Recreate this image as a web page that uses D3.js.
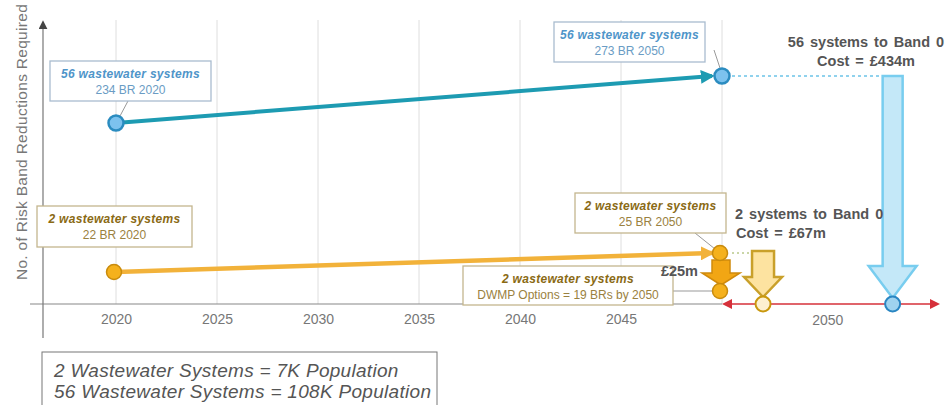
<!DOCTYPE html>
<html>
<head>
<meta charset="utf-8">
<script src="https://cdn.jsdelivr.net/npm/d3@7"></script>
<style>
  body { margin: 0; background: #fff; }
  text { font-family: "Liberation Sans", Arial, sans-serif; }
</style>
</head>
<body>
<div id="my_dataviz"></div>
<script>
// chart data
const gridYears = [2020, 2025, 2030, 2035, 2040, 2045, 2050];
const tickYears = [2020, 2025, 2030, 2035, 2040, 2045];
const bigYears = [2020, 2050];
const bigBR = [234, 273];
const smallYears = [2020, 2050];
const smallBR = [22, 25];
const dwmpBR = 19;
const band0 = 0;
// positions on the "2050" outcome segment (0..1)
const outcomeLabel = "2050";
const outcomeSmall = 0.19, outcomeBig = 0.79, outcomeLabelPos = 0.49;
const bigLabels = [["56 wastewater systems", "234 BR 2020"], ["56 wastewater systems", "273 BR 2050"]];
const smallLabels = [["2 wastewater systems", "22 BR 2020"], ["2 wastewater systems", "25 BR 2050"]];
const dwmpLabel = ["2 wastewater systems", "DWMP Options = 19 BRs by 2050"];
const bigCost = ["56 systems to Band 0", "Cost = £434m"];
const smallCost = ["2 systems to Band 0", "Cost = £67m"];
const dwmpCost = "£25m";
const legendLines = ["2 Wastewater Systems = 7K Population", "56 Wastewater Systems = 108K Population"];

const width = 948, height = 405;

const svg = d3.select("#my_dataviz")
  .append("svg")
    .attr("width", width)
    .attr("height", height);

// scales (schematic y axis, so piecewise)
const x = d3.scaleLinear().domain([2020, 2050]).range([116, 722]);
const xOut = d3.scaleLinear().domain([0, 1]).range([722, 938]);
const y = d3.scaleLinear().domain([0, 19, 25, 234, 273]).range([304, 291, 253, 123, 76]);

const blue = "#1d9bb2", blueFill = "#7cc2ee", blueStroke = "#2b8cc0";
const orange = "#f2b23a", orangeFill = "#f5b11c", orangeStroke = "#c98b0c";

const defs = svg.append("defs");
function marker(id, color, size) {
  defs.append("marker")
    .attr("id", id)
    .attr("viewBox", "0 0 10 10")
    .attr("refX", 8).attr("refY", 5)
    .attr("markerWidth", size).attr("markerHeight", size)
    .attr("markerUnits", "userSpaceOnUse")
    .attr("orient", "auto-start-reverse")
    .append("path")
      .attr("d", "M0,0 L10,5 L0,10 z")
      .attr("fill", color);
}
marker("arrBlue", blue, 14);
marker("arrOrange", orange, 14);
marker("arrRed", "#d6303a", 10);
marker("arrGray", "#444", 9);

// gridlines
svg.append("g")
  .selectAll("line")
  .data(gridYears)
  .join("line")
    .attr("x1", d => x(d)).attr("x2", d => x(d))
    .attr("y1", 20).attr("y2", y(0))
    .attr("stroke", "#dedede").attr("stroke-width", 1);

// x axis
const xAxis = svg.append("g")
  .attr("transform", `translate(0,${y(0)})`)
  .call(d3.axisBottom(x).tickValues(tickYears).tickFormat(d3.format("d")).tickSize(0).tickPadding(10));
xAxis.select(".domain").remove();
xAxis.selectAll("text").attr("font-size", 14).attr("fill", "#777");
svg.append("line")
  .attr("x1", 30).attr("x2", x(2050))
  .attr("y1", y(0)).attr("y2", y(0))
  .attr("stroke", "#888").attr("stroke-width", 1.2);

// y axis
svg.append("line")
  .attr("x1", 43).attr("x2", 43)
  .attr("y1", 338).attr("y2", 22)
  .attr("stroke", "#777").attr("stroke-width", 1.2)
  .attr("marker-end", "url(#arrGray)");
svg.append("text")
  .attr("transform", "translate(27,142) rotate(-90)")
  .attr("text-anchor", "middle")
  .attr("font-size", 15.5)
  .attr("letter-spacing", 0.3)
  .attr("fill", "#777")
  .text("No. of Risk Band Reductions Required");

// outcome segment (red double arrow)
svg.append("line")
  .attr("x1", xOut(0) + 2).attr("x2", xOut(1))
  .attr("y1", y(0)).attr("y2", y(0))
  .attr("stroke", "#d6303a").attr("stroke-width", 1.3)
  .attr("marker-start", "url(#arrRed)")
  .attr("marker-end", "url(#arrRed)");
svg.append("text")
  .attr("x", xOut(outcomeLabelPos)).attr("y", y(0) + 21)
  .attr("text-anchor", "middle")
  .attr("font-size", 14).attr("fill", "#777")
  .text(outcomeLabel);

// dotted connectors
svg.append("line")
  .attr("x1", x(2050) + 10).attr("x2", xOut(outcomeBig))
  .attr("y1", y(bigBR[1])).attr("y2", y(bigBR[1]))
  .attr("stroke", "#6cc3e8").attr("stroke-width", 1.3).attr("stroke-dasharray", "3,3");
svg.append("line")
  .attr("x1", x(2050) + 10).attr("x2", xOut(outcomeSmall) - 8)
  .attr("y1", y(smallBR[1])).attr("y2", y(smallBR[1]))
  .attr("stroke", "#b9c98a").attr("stroke-width", 1.3).attr("stroke-dasharray", "2,3");

// block arrows
function blockArrow(cx, y0, y1, shaftW, headW, headH) {
  const s = shaftW / 2, h = headW / 2;
  return `M${cx - s},${y0} L${cx + s},${y0} L${cx + s},${y1 - headH} L${cx + h},${y1 - headH} L${cx},${y1} L${cx - h},${y1 - headH} L${cx - s},${y1 - headH} Z`;
}
svg.append("path")
  .attr("d", blockArrow(xOut(outcomeBig), y(bigBR[1]), y(band0) - 6, 20, 48, 32))
  .attr("fill", "#c4e8f8").attr("stroke", "#78cdef").attr("stroke-width", 2.5);
svg.append("path")
  .attr("d", blockArrow(xOut(outcomeSmall), y(smallBR[1]) - 2, y(band0) - 7, 22, 38, 20))
  .attr("fill", "#fde3a0").attr("stroke", "#c9a02a").attr("stroke-width", 2.5);
svg.append("path")
  .attr("d", blockArrow(x(2050) - 1, y(smallBR[1]) + 7, y(dwmpBR) - 6, 18, 38, 12))
  .attr("fill", "#f2a614").attr("stroke", "#d08a0c").attr("stroke-width", 1.5);

// trend lines
svg.append("line")
  .attr("x1", x(bigYears[0])).attr("y1", y(bigBR[0]))
  .attr("x2", x(bigYears[1]) - 10).attr("y2", y(bigBR[1]))
  .attr("stroke", blue).attr("stroke-width", 4)
  .attr("marker-end", "url(#arrBlue)");
svg.append("line")
  .attr("x1", x(smallYears[0])).attr("y1", y(smallBR[0]))
  .attr("x2", x(smallYears[1]) - 10).attr("y2", y(smallBR[1]))
  .attr("stroke", orange).attr("stroke-width", 4.5)
  .attr("marker-end", "url(#arrOrange)");

// annotation boxes
function box(x0, y0, w, h, lines, c1, c2, border) {
  const g = svg.append("g");
  g.append("rect")
    .attr("x", x0).attr("y", y0).attr("width", w).attr("height", h)
    .attr("fill", "#fff").attr("stroke", border).attr("stroke-width", 1.3);
  g.append("text")
    .attr("x", x0 + w / 2).attr("y", y0 + 17)
    .attr("text-anchor", "middle")
    .attr("font-size", 12).attr("font-weight", "bold").attr("font-style", "italic")
    .attr("letter-spacing", 0.3)
    .attr("fill", c1).text(lines[0]);
  g.append("text")
    .attr("x", x0 + w / 2).attr("y", y0 + 33)
    .attr("text-anchor", "middle")
    .attr("font-size", 12).attr("fill", c2).text(lines[1]);
}
function leader(x1, y1, x2, y2) {
  svg.append("line")
    .attr("x1", x1).attr("y1", y1).attr("x2", x2).attr("y2", y2)
    .attr("stroke", "#999").attr("stroke-width", 1);
}
const blueTxt = "#4f95c9", blueTxt2 = "#6a9cc4", blueBorder = "#a9bccf";
const goldTxt = "#8a6a14", goldTxt2 = "#9a8140", goldBorder = "#c4b68e";

leader(128, 101, x(2020) + 4, y(bigBR[0]) - 7);
leader(714, 50, x(2050) - 2, y(bigBR[1]) - 8);
leader(695, 233, x(2050) - 7, y(smallBR[1]) - 4);
leader(672, 291, x(2050) - 8, y(dwmpBR));

box(50, 61, 161, 40, bigLabels[0], blueTxt, blueTxt2, blueBorder);
box(554, 22, 151, 40, bigLabels[1], blueTxt, blueTxt2, blueBorder);
box(37, 206, 155, 41, smallLabels[0], goldTxt, goldTxt2, goldBorder);
box(575, 193, 151, 40, smallLabels[1], goldTxt, goldTxt2, goldBorder);
box(463, 266, 210, 39, dwmpLabel, goldTxt, goldTxt2, goldBorder);

// points
svg.append("g").selectAll("circle")
  .data(bigYears.map((d, i) => [x(d), y(bigBR[i])]))
  .join("circle")
    .attr("cx", d => d[0]).attr("cy", d => d[1]).attr("r", 7.5)
    .attr("fill", blueFill).attr("stroke", blueStroke).attr("stroke-width", 2.5);
svg.append("g").selectAll("circle")
  .data(smallYears.map((d, i) => [x(d) - 2, y(smallBR[i])]).concat([[x(2050) - 2, y(dwmpBR)]]))
  .join("circle")
    .attr("cx", d => d[0]).attr("cy", d => d[1]).attr("r", 7.5)
    .attr("fill", orangeFill).attr("stroke", orangeStroke).attr("stroke-width", 1.5);
svg.append("circle")
  .attr("cx", xOut(outcomeSmall)).attr("cy", y(band0)).attr("r", 7.5)
  .attr("fill", "#fdf0d0").attr("stroke", "#c9980e").attr("stroke-width", 2);
svg.append("circle")
  .attr("cx", xOut(outcomeBig)).attr("cy", y(band0)).attr("r", 7.5)
  .attr("fill", "#9fd3ef").attr("stroke", "#2a86c2").attr("stroke-width", 2);

// cost labels
function boldText(xp, yp, t, anchor) {
  svg.append("text")
    .attr("x", xp).attr("y", yp)
    .attr("text-anchor", anchor)
    .attr("font-size", 14.5).attr("font-weight", "bold")
    .attr("word-spacing", 2)
    .attr("fill", "#555").text(t);
}
boldText(866, 47, bigCost[0], "middle");
boldText(866, 66, bigCost[1], "middle");
boldText(735, 219, smallCost[0], "start");
boldText(736, 238, smallCost[1], "start");
boldText(698, 276, dwmpCost, "end");

// legend box
svg.append("rect")
  .attr("x", 42).attr("y", 352).attr("width", 395).attr("height", 60)
  .attr("fill", "#fff").attr("stroke", "#777").attr("stroke-width", 1);
legendLines.forEach((t, i) => {
  svg.append("text")
    .attr("x", 54).attr("y", 377 + i * 21)
    .attr("font-size", 19).attr("font-style", "italic")
    .attr("letter-spacing", 0.3)
    .attr("fill", "#555").text(t);
});
</script>
</body>
</html>
